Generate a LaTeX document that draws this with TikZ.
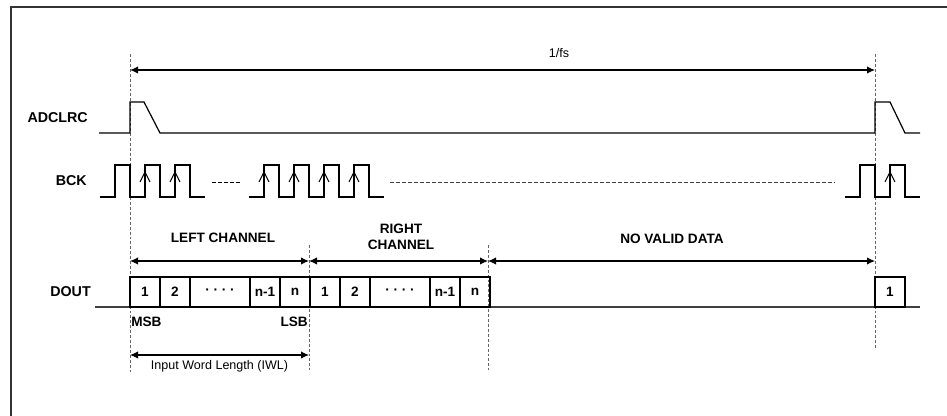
\documentclass[tikz,border=0pt]{standalone}
\usepackage{fontspec}
\setmainfont{Liberation Sans}
\usetikzlibrary{arrows.meta,positioning}

\tikzset{
  frame/.style={line width=1.2pt, draw=black!80},
  guide/.style={line width=0.7pt, draw=black!60, dash pattern=on 2.2pt off 1.5pt},
  wave/.style={line width=0.9pt, line join=miter},
  tick/.style={line width=0.8pt},
  dim/.style={line width=0.8pt, {Latex[length=6pt,width=5.5pt]}-{Latex[length=6pt,width=5.5pt]}},
  signame/.style={font=\bfseries\fontsize{10.7}{12}\selectfont, anchor=east, inner sep=0pt},
  chlabel/.style={font=\bfseries\fontsize{10.2}{12}\selectfont, align=center, inner sep=0pt},
  plain/.style={font=\fontsize{9.4}{11}\selectfont, inner sep=0pt},
  bit/.style={draw, line width=0.9pt, outer sep=0pt, inner sep=0pt,
    minimum height=22.5pt, minimum width=22.5pt,
    font=\bfseries\fontsize{10.2}{12}\selectfont},
  wide/.style={bit, minimum width=45pt}
}

\begin{document}
\begin{tikzpicture}[x=0.75pt, y=-0.75pt]
    \useasboundingbox (0,0) rectangle (947,416);

    % Frame
    \draw[frame] (11,416) -- (11,7) -- (947,7);

    % Guide lines
    \draw[guide] (130,54) -- (130,372);
    \draw[guide] (309,245) -- (309,370);
    \draw[guide] (488,245) -- (488,370);
    \draw[guide] (875,54) -- (875,348);

    % Signal names
    \node[signame] (adclrc) at (88,118) {ADCLRC};
    \node[signame] (bck) at (87,181) {BCK};
    \node[signame] (dout) at (91,292) {DOUT};

    % Frame period
    \coordinate (fsL) at (130,70);
    \coordinate (fsR) at (875,70);
    \draw[dim] (fsL) -- (fsR);
    \node[plain] (fs) at (559,53) {1/fs};

    % ADCLRC
    \draw[wave] (99,133) -- (130,133) -- (130,102) -- (144,102) -- (160,133)
        -- (875,133) -- (875,102) -- (890,102) -- (905,133) -- (920,133);

    % BCK
    \draw[wave] (100,197) -- (115,197) -- (115,165) -- (130,165) -- (130,197)
        -- (145,197) -- (145,165) -- (160,165) -- (160,197) -- (175,197)
        -- (175,165) -- (190,165) -- (190,197) -- (205,197);
    \draw[line width=0.7pt, dash pattern=on 3pt off 1.5pt] (212,182) -- (241,182);
    \draw[wave] (249,197) -- (264,197) -- (264,165) -- (279,165) -- (279,197)
        -- (294,197) -- (294,165) -- (309,165) -- (309,197) -- (324,197)
        -- (324,165) -- (339,165) -- (339,197) -- (354,197) -- (354,165)
        -- (369,165) -- (369,197) -- (384,197);
    \draw[line width=0.6pt, draw=black!75, dash pattern=on 3pt off 1.5pt] (390,182) -- (835,182);
    \draw[wave] (845,197) -- (860,197) -- (860,165) -- (875,165) -- (875,197)
        -- (890,197) -- (890,165) -- (905,165) -- (905,197) -- (920,197);

    % Rising edge marks
    \foreach \e in {145,175,264,294,324,354,890}
        \draw[tick] (\e-5,182) -- (\e,172) -- (\e+5,182);

    % Channel spans
    \coordinate (lcL) at (130,261);
    \coordinate (lcR) at (309,261);
    \coordinate (rcR) at (488,261);
    \coordinate (nvR) at (875,261);
    \draw[dim] (lcL) -- (lcR);
    \draw[dim] (lcR) -- (rcR);
    \draw[dim] (rcR) -- (nvR);
    \node[chlabel] (left) at (223,238) {LEFT CHANNEL};
    \node[chlabel] (right) at (401,237) {RIGHT\\CHANNEL};
    \node[chlabel] (novalid) at (672,239) {NO VALID DATA};

    % DOUT line
    \draw[line width=0.8pt, draw=black!75] (95,307) -- (920,307);

    % Left word
    \node[bit, anchor=south west] (l1) at (130,307) {1};
    \node[bit, right=0pt of l1] (l2) {2};
    \node[wide, right=0pt of l2] (l3) {· · · ·};
    \node[bit, right=0pt of l3] (l4) {n-1};
    \node[bit, right=0pt of l4] (l5) {n};

    % Right word
    \node[bit, right=0pt of l5] (r1) {1};
    \node[bit, right=0pt of r1] (r2) {2};
    \node[wide, right=0pt of r2] (r3) {· · · ·};
    \node[bit, right=0pt of r3] (r4) {n-1};
    \node[bit, right=0pt of r4] (r5) {n};

    % Next frame
    \node[bit, anchor=south west] (n1) at (875,307) {1};

    % Bit order
    \node[chlabel, anchor=west] (msb) at (131,322) {MSB};
    \node[chlabel, anchor=east] (lsb) at (308,322) {LSB};

    % Word length
    \coordinate (iwlL) at (130,355);
    \coordinate (iwlR) at (309,355);
    \draw[dim] (iwlL) -- (iwlR);
    \node[plain] (iwl) at (219.5,366) {Input Word Length (IWL)};

\end{tikzpicture}
\end{document}
